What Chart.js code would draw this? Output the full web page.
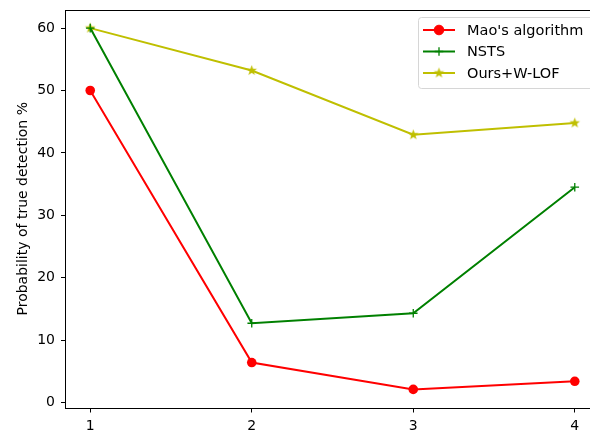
<!DOCTYPE html>
<html lang="en">
<head>
    <meta charset="UTF-8">
    <title>Probability of true detection</title>
    <script src="https://cdn.jsdelivr.net/npm/chart.js"></script>
    <style>
        html, body { margin: 0; padding: 0; overflow: hidden; background: #fff; }
        #wrap { width: 600px; height: 430px; }
    </style>
</head>
<body>
    <div id="wrap"><canvas id="detChart" width="600" height="430"></canvas></div>

    <script>
        // data
        const xValues = [1, 2, 3, 4];
        const maoValues = [50, 6.4, 2.1, 3.4];
        const nstsValues = [60, 12.7, 14.3, 34.5];
        const oursValues = [60, 53.2, 42.9, 44.8];
        const seriesNames = ["Mao's algorithm", "NSTS", "Ours+W-LOF"];
        const xTicks = [1, 2, 3, 4];
        const yTicks = [0, 10, 20, 30, 40, 50, 60];

        const FONT = 'DejaVu Sans';

        // matplotlib style filled 5 point star
        function makeStar(color, r) {
            let c = document.createElement('canvas');
            let s = Math.ceil(r * 2 + 2);
            c.width = s; c.height = s;
            let g = c.getContext('2d');
            g.fillStyle = color;
            g.beginPath();
            for (let i = 0; i < 10; i++) {
                let rad = i % 2 === 0 ? r : r * 0.42;
                let a = -Math.PI / 2 + i * Math.PI / 5;
                let px = s / 2 + rad * Math.cos(a);
                let py = s / 2 + rad * Math.sin(a);
                if (i === 0) g.moveTo(px, py); else g.lineTo(px, py);
            }
            g.closePath();
            g.fill();
            return c;
        }
        const starImg = makeStar('#bfbf00', 5.5);

        function toPoints(ys) {
            return xValues.map((x, i) => ({ x: x, y: ys[i] }));
        }

        // full box round the plot + matplotlib-like legend
        const boxAndLegend = {
            id: 'boxAndLegend',
            afterDraw(chart) {
                const ctx = chart.ctx;
                const a = chart.chartArea;
                ctx.save();
                ctx.strokeStyle = '#000';
                ctx.lineWidth = 1;
                ctx.strokeRect(Math.round(a.left) - 0.5, Math.round(a.top) + 0.5,
                    Math.round(a.right - a.left) + 1, Math.round(a.bottom - a.top));

                // legend
                const lx = 418, ly = 17, lw = 176, lh = 71;
                ctx.fillStyle = 'rgba(255,255,255,0.8)';
                ctx.strokeStyle = '#d6d6d6';
                ctx.beginPath();
                ctx.roundRect(lx + 0.5, ly + 0.5, lw, lh, 3);
                ctx.fill();
                ctx.stroke();
                ctx.font = '14.5px ' + FONT;
                ctx.textBaseline = 'middle';
                chart.data.datasets.forEach((ds, i) => {
                    const yy = 30 + i * 21.5;
                    ctx.strokeStyle = ds.borderColor;
                    ctx.fillStyle = ds.borderColor;
                    ctx.lineWidth = 2;
                    ctx.beginPath();
                    ctx.moveTo(423, yy);
                    ctx.lineTo(455, yy);
                    ctx.stroke();
                    ctx.lineWidth = ds.pointBorderWidth || 1;
                    Chart.helpers.drawPoint(ctx, {
                        pointStyle: ds.pointStyle,
                        radius: ds.pointRadius,
                        borderWidth: ds.pointBorderWidth || 1,
                        rotation: 0
                    }, 439, yy);
                    ctx.fillStyle = '#000';
                    ctx.fillText(ds.label, 467, yy + 1);
                });
                ctx.restore();
            }
        };

        let ctx = document.getElementById('detChart').getContext('2d');
        let detChart = new Chart(ctx, {
            type: 'line',
            data: {
                datasets: [
                    {
                        label: seriesNames[0],
                        data: toPoints(maoValues),
                        borderColor: '#ff0000',
                        backgroundColor: '#ff0000',
                        borderWidth: 2,
                        pointStyle: 'circle',
                        pointRadius: 4.8,
                        pointBorderWidth: 0,
                        pointBackgroundColor: '#ff0000'
                    },
                    {
                        label: seriesNames[1],
                        data: toPoints(nstsValues),
                        borderColor: '#008000',
                        backgroundColor: '#008000',
                        borderWidth: 2,
                        pointStyle: 'cross',
                        pointRadius: 4.3,
                        pointBorderWidth: 1.3,
                        pointBorderColor: '#008000'
                    },
                    {
                        label: seriesNames[2],
                        data: toPoints(oursValues),
                        borderColor: '#bfbf00',
                        backgroundColor: '#bfbf00',
                        borderWidth: 2,
                        pointStyle: starImg,
                        pointRadius: 5.5
                    }
                ]
            },
            options: {
                responsive: false,
                animation: false,
                devicePixelRatio: 1,
                layout: { autoPadding: false, padding: { top: 10, right: 1, left: 0, bottom: 0 } },
                plugins: {
                    legend: { display: false },
                    tooltip: { enabled: false }
                },
                scales: {
                    x: {
                        type: 'linear',
                        min: 0.85,
                        max: 4.15,
                        afterBuildTicks: (s) => { s.ticks = xTicks.map(v => ({ value: v })); },
                        afterFit: (s) => { s.height = 22.5; s.paddingLeft = 0; s.paddingRight = 0; },
                        border: { display: false },
                        grid: { drawOnChartArea: false, tickLength: 5, color: '#000', lineWidth: 1 },
                        ticks: { color: '#000', font: { family: FONT, size: 14 }, padding: 5, maxRotation: 0 }
                    },
                    y: {
                        type: 'linear',
                        min: -0.8,
                        max: 62.9,
                        afterBuildTicks: (s) => { s.ticks = yTicks.map(v => ({ value: v })); },
                        afterFit: (s) => { s.width = 66; s.paddingTop = 0; s.paddingBottom = 0; },
                        border: { display: false },
                        grid: { drawOnChartArea: false, tickLength: 5, color: '#000', lineWidth: 1 },
                        ticks: { color: '#000', font: { family: FONT, size: 14 }, padding: 6 },
                        title: {
                            display: true,
                            text: 'Probability of true detection %',
                            color: '#000',
                            font: { family: FONT, size: 14 },
                            padding: { top: 15, bottom: 0 }
                        }
                    }
                }
            },
            plugins: [boxAndLegend]
        });
    </script>
</body>
</html>
